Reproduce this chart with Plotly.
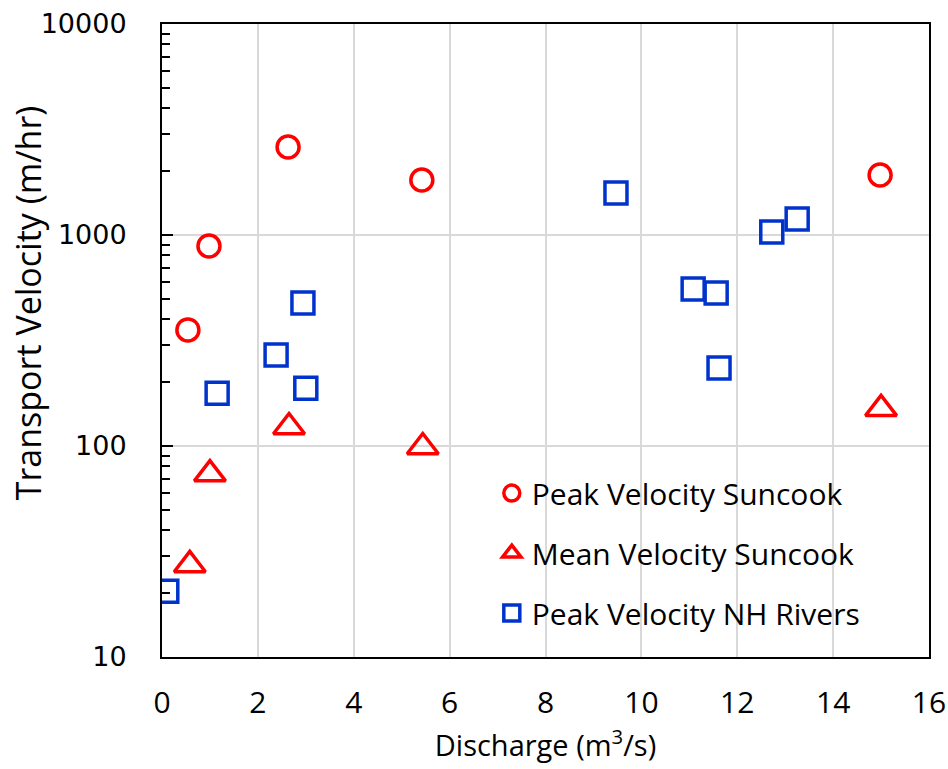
import plotly.graph_objects as go

# Peak Velocity Suncook
peak_suncook_x = [0.54, 0.98, 2.63, 5.42, 14.98]
peak_suncook_y = [355, 887, 2612, 1823, 1923]

# Mean Velocity Suncook
mean_suncook_x = [0.58, 1.0, 2.65, 5.44, 15.0]
mean_suncook_y = [27.3, 73.6, 123, 98.9, 150]

# Peak Velocity NH Rivers
peak_nh_x = [0.1, 1.15, 2.38, 2.94, 3.0, 9.47, 11.08, 11.56, 11.62, 12.72, 13.25]
peak_nh_y = [20.5, 178, 270, 476, 188, 1581, 554, 531, 234, 1033, 1191]

x_tickvals = [0, 2, 4, 6, 8, 10, 12, 14, 16]
y_tickvals = [10, 100, 1000, 10000]
y_ticktext = ["10", "100", "1000", "10000"]

RED = "#ff0000"
BLUE = "#0033cc"
FONT = "Open Sans"

fig = go.Figure()
fig.add_trace(go.Scatter(
    x=peak_suncook_x, y=peak_suncook_y, mode="markers",
    name="Peak Velocity Suncook", legendgroup="a",
    marker=dict(symbol="circle-open", size=22, color=RED, line=dict(width=3.5, color=RED)),
))
fig.add_trace(go.Scatter(
    x=mean_suncook_x, y=mean_suncook_y, mode="markers",
    name="Mean Velocity Suncook", legendgroup="b",
    marker=dict(symbol="triangle-up-open", size=27, color=RED, line=dict(width=3.5, color=RED)),
))
fig.add_trace(go.Scatter(
    x=peak_nh_x, y=peak_nh_y, mode="markers",
    name="Peak Velocity NH Rivers", legendgroup="c",
    marker=dict(symbol="square-open", size=22, color=BLUE, line=dict(width=3.5, color=BLUE)),
))

fig.update_layout(
    width=948, height=769,
    margin=dict(l=162, r=19, t=24, b=112, autoexpand=False),
    paper_bgcolor="white", plot_bgcolor="white",
    showlegend=True,
    legend=dict(
        x=0.43, y=0.30, xanchor="left", yanchor="top",
        bgcolor="rgba(0,0,0,0)",
        font=dict(family=FONT, size=30, color="black"),
        tracegroupgap=18,
        traceorder="grouped",
        itemsizing="trace",
    ),
    xaxis=dict(
        range=[0, 16], tickvals=x_tickvals,
        showgrid=True, gridcolor="#d9d9d9", gridwidth=1.5,
        showline=True, linecolor="black", linewidth=2, mirror=True,
        ticks="", zeroline=False, automargin=False,
        tickfont=dict(family=FONT, size=30, color="black"),
        ticklabelstandoff=18,
        title=dict(text="Discharge (m<sup>3</sup>/s)", standoff=13,
                   font=dict(family=FONT, size=29, color="black")),
    ),
    yaxis=dict(
        type="log", range=[1, 4], tickvals=y_tickvals, ticktext=y_ticktext,
        showgrid=True, gridcolor="#d9d9d9", gridwidth=1.5,
        showline=True, linecolor="black", linewidth=2, mirror=True,
        ticks="inside", ticklen=11, tickwidth=2, tickcolor="black",
        minor=dict(ticks="inside", dtick="D1", ticklen=8, tickwidth=2,
                   tickcolor="black", showgrid=False),
        zeroline=False, automargin=False,
        tickfont=dict(family="DejaVu Sans", size=27, color="black"),
        ticklabelstandoff=28,
    ),
    annotations=[dict(
        text="Transport Velocity (m/hr)", textangle=-90,
        xref="paper", yref="paper", x=-0.175, y=0.56,
        xanchor="center", yanchor="middle", showarrow=False,
        font=dict(family=FONT, size=34, color="black"),
    )],
)

fig.write_html("out.html")
